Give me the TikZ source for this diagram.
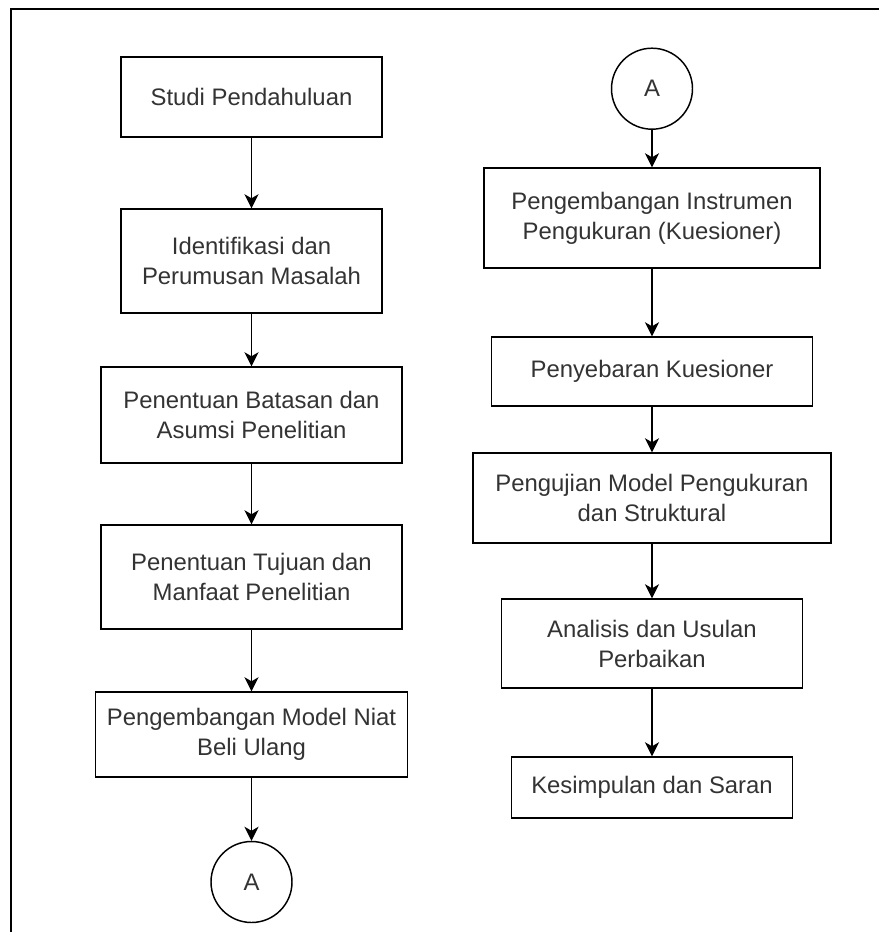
\documentclass[tikz,border=0pt]{standalone}
\usepackage{fontspec}
\setmainfont{Liberation Sans}
\usepackage{tikz}
\usetikzlibrary{arrows.meta,positioning,calc}

\tikzset{
  stepbox/.style={draw, line width=1.1pt, rectangle, inner sep=0pt, align=center,
    text=black!80, font=\fontsize{17.9}{22.5}\selectfont},
  connA/.style={draw, line width=1.1pt, circle, inner sep=0pt, minimum size=60.75pt,
    text=black!80, font=\fontsize{17.9}{22.5}\selectfont},
  flow/.style={line width=1.1pt, -{Stealth[length=10.5pt,width=10.5pt,inset=3pt]}}
}

\begin{document}
\begin{tikzpicture}[x=0.75pt,y=-0.75pt]
\useasboundingbox (0,0) rectangle (879,932);
\draw[line width=1.5pt] (11,932) -- (11,9) -- (879,9);

\node[stepbox, minimum width=195.75pt, minimum height=60pt] (studi) at (251.5,97) {Studi Pendahuluan};
\node[stepbox, minimum width=195.75pt, minimum height=78pt] (identifikasi) at (251.5,261) {Identifikasi dan\\Perumusan Masalah};
\node[stepbox, minimum width=225.75pt, minimum height=72pt] (batasan) at (251.5,415) {Penentuan Batasan dan\\Asumsi Penelitian};
\node[stepbox, minimum width=225.75pt, minimum height=78pt] (tujuan) at (251.5,577) {Penentuan Tujuan dan\\Manfaat Penelitian};
\node[stepbox, minimum width=234pt, minimum height=63.75pt] (modelniat) at (251.5,734.5) {Pengembangan Model Niat\\Beli Ulang};
\node[connA] (keluarA) at (251.5,882) {A};

\node[connA] (masukA) at (652,88.7) {A};
\node[stepbox, minimum width=252pt, minimum height=75pt] (instrumen) at (652,218) {Pengembangan Instrumen\\Pengukuran (Kuesioner)};
\node[stepbox, minimum width=240.75pt, minimum height=51.75pt] (penyebaran) at (652,371.5) {Penyebaran Kuesioner};
\node[stepbox, minimum width=268.5pt, minimum height=67.5pt] (pengujian) at (652,498) {Pengujian Model Pengukuran\\dan Struktural};
\node[stepbox, minimum width=225.75pt, minimum height=66.75pt] (analisis) at (652,643.5) {Analisis dan Usulan\\Perbaikan};
\node[stepbox, minimum width=210.75pt, minimum height=45.75pt] (kesimpulan) at (652,787.5) {Kesimpulan dan Saran};

\draw[flow] (studi) -- (identifikasi);
\draw[flow] (identifikasi) -- (batasan);
\draw[flow] (batasan) -- (tujuan);
\draw[flow] (tujuan) -- (modelniat);
\draw[flow] (modelniat) -- (keluarA);
\draw[flow] (masukA) -- (instrumen);
\draw[flow] (instrumen) -- (penyebaran);
\draw[flow] (penyebaran) -- (pengujian);
\draw[flow] (pengujian) -- (analisis);
\draw[flow] (analisis) -- (kesimpulan);
\end{tikzpicture}
\end{document}
